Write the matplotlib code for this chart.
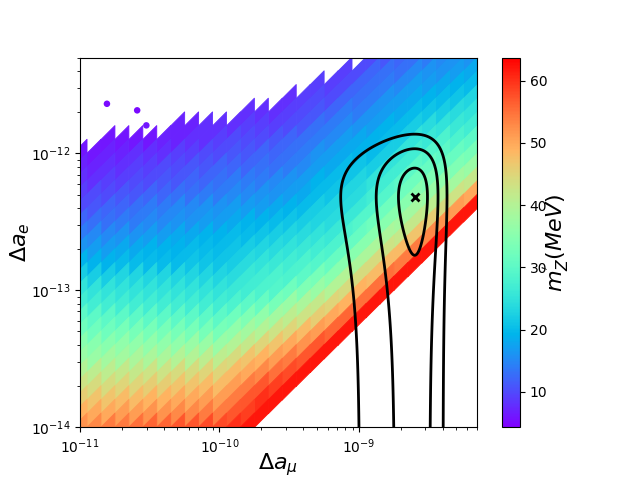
import numpy as np
import matplotlib
matplotlib.use('Agg')
import matplotlib.pyplot as plt

# scan on a grid
# columns: log10(Delta a_mu), rows: log10(Delta a_e) (top row first)
# cell value: m_Z' in MeV, 0 = no points there
log_amu = [-11.0, -10.9, -10.8, -10.7, -10.6, -10.5, -10.4, -10.3, -10.2, -10.1,
           -10.0, -9.9, -9.8, -9.7, -9.6, -9.5, -9.4, -9.3, -9.2, -9.1,
           -9.0, -8.9, -8.8, -8.7, -8.6, -8.5, -8.4, -8.3, -8.2]
log_ae = [-11.3, -11.4, -11.5, -11.6, -11.7, -11.8, -11.9, -12.0, -12.1, -12.2,
          -12.3, -12.4, -12.5, -12.6, -12.7, -12.8, -12.9, -13.0, -13.1, -13.2,
          -13.3, -13.4, -13.5, -13.6, -13.7, -13.8, -13.9, -14.0]
mass_grid = [
    [0, 0, 0, 0, 0, 0, 0, 0, 0, 0, 0, 0, 0, 0, 0, 0, 0, 0, 0, 0, 0, 10, 11, 12, 13, 14, 15, 16, 16],
    [0, 0, 0, 0, 0, 0, 0, 0, 0, 0, 0, 0, 0, 0, 0, 0, 0, 0, 0, 9, 10, 12, 13, 13, 15, 16, 16, 17, 18],
    [0, 0, 0, 0, 0, 0, 0, 0, 0, 0, 0, 0, 0, 0, 0, 0, 0, 9, 9, 10, 12, 13, 14, 15, 17, 17, 18, 19, 20],
    [0, 0, 0, 0, 0, 0, 0, 0, 0, 0, 0, 0, 0, 0, 0, 8, 9, 10, 10, 12, 13, 14, 16, 17, 18, 19, 20, 21, 23],
    [0, 0, 0, 0, 0, 0, 0, 0, 0, 0, 0, 0, 8, 8, 8, 9, 10, 11, 12, 14, 14, 16, 17, 18, 20, 21, 22, 24, 25],
    [0, 0, 0, 0, 0, 0, 0, 7, 7, 8, 8, 8, 9, 9, 9, 10, 11, 13, 14, 15, 16, 17, 19, 20, 22, 24, 25, 26, 27],
    [0, 0, 6, 6, 6, 6, 7, 7, 8, 8, 9, 10, 10, 10, 11, 12, 13, 14, 15, 17, 18, 19, 20, 22, 25, 26, 28, 28, 30],
    [6, 6, 7, 7, 8, 8, 8, 9, 9, 10, 10, 11, 11, 12, 12, 13, 14, 16, 17, 18, 19, 20, 22, 25, 27, 29, 30, 31, 33],
    [7, 7, 8, 8, 9, 9, 10, 10, 11, 11, 12, 12, 12, 13, 13, 14, 15, 17, 18, 20, 21, 22, 25, 27, 30, 31, 32, 34, 37],
    [8, 8, 9, 9, 10, 10, 11, 11, 12, 12, 13, 14, 14, 14, 15, 16, 17, 19, 20, 21, 23, 25, 27, 30, 32, 34, 36, 38, 42],
    [9, 10, 10, 11, 11, 12, 12, 13, 13, 14, 14, 15, 15, 16, 16, 17, 18, 20, 21, 23, 24, 27, 29, 32, 35, 37, 40, 43, 50],
    [10, 11, 12, 12, 13, 14, 14, 15, 15, 16, 16, 17, 17, 17, 18, 19, 20, 22, 23, 24, 26, 29, 32, 35, 38, 41, 44, 51, 62],
    [12, 13, 13, 14, 14, 15, 15, 16, 16, 17, 17, 18, 19, 19, 20, 21, 22, 23, 24, 26, 29, 32, 35, 38, 42, 46, 52, 62, 0],
    [14, 15, 15, 16, 16, 17, 17, 18, 18, 19, 19, 20, 20, 21, 22, 23, 24, 25, 26, 28, 31, 35, 39, 42, 47, 53, 62, 0, 0],
    [16, 17, 17, 18, 18, 19, 19, 19, 20, 20, 20, 21, 22, 23, 24, 25, 26, 27, 28, 31, 35, 39, 43, 48, 54, 62, 0, 0, 0],
    [19, 19, 19, 20, 20, 20, 20, 20, 21, 21, 21, 22, 24, 25, 26, 27, 28, 29, 31, 35, 39, 44, 48, 54, 62, 0, 0, 0, 0],
    [22, 22, 22, 23, 23, 23, 23, 23, 23, 23, 23, 24, 26, 27, 28, 28, 30, 33, 35, 40, 44, 48, 55, 62, 0, 0, 0, 0, 0],
    [25, 25, 25, 25, 25, 25, 25, 25, 25, 25, 25, 26, 27, 28, 29, 32, 34, 37, 40, 44, 49, 55, 62, 0, 0, 0, 0, 0, 0],
    [27, 27, 27, 27, 27, 27, 27, 27, 27, 27, 27, 28, 30, 31, 33, 37, 39, 42, 45, 49, 55, 62, 0, 0, 0, 0, 0, 0, 0],
    [30, 30, 30, 30, 30, 30, 30, 30, 30, 30, 30, 32, 34, 36, 38, 41, 43, 46, 50, 56, 62, 0, 0, 0, 0, 0, 0, 0, 0],
    [32, 32, 32, 33, 33, 33, 33, 33, 33, 33, 33, 36, 38, 40, 43, 45, 48, 51, 56, 62, 0, 0, 0, 0, 0, 0, 0, 0, 0],
    [35, 35, 35, 36, 36, 36, 36, 36, 37, 37, 37, 40, 42, 45, 47, 50, 52, 57, 62, 0, 0, 0, 0, 0, 0, 0, 0, 0, 0],
    [37, 37, 38, 38, 39, 39, 39, 40, 40, 41, 41, 44, 47, 49, 51, 54, 57, 62, 0, 0, 0, 0, 0, 0, 0, 0, 0, 0, 0],
    [40, 41, 41, 42, 42, 43, 43, 44, 44, 45, 45, 48, 50, 53, 55, 58, 62, 0, 0, 0, 0, 0, 0, 0, 0, 0, 0, 0, 0],
    [43, 44, 44, 45, 45, 46, 46, 47, 47, 48, 48, 51, 54, 57, 59, 62, 0, 0, 0, 0, 0, 0, 0, 0, 0, 0, 0, 0, 0],
    [46, 47, 47, 48, 48, 49, 49, 50, 50, 51, 51, 54, 57, 60, 62, 0, 0, 0, 0, 0, 0, 0, 0, 0, 0, 0, 0, 0, 0],
    [49, 50, 50, 51, 51, 52, 52, 53, 53, 54, 54, 57, 59, 62, 0, 0, 0, 0, 0, 0, 0, 0, 0, 0, 0, 0, 0, 0, 0],
    [52, 53, 54, 54, 55, 56, 56, 57, 57, 58, 58, 60, 62, 0, 0, 0, 0, 0, 0, 0, 0, 0, 0, 0, 0, 0, 0, 0, 0],
]

# a few isolated points above the band
out_amu = [1.56e-11, 2.57e-11, 2.99e-11]
out_ae = [2.3e-12, 2.06e-12, 1.6e-12]
out_mass = [5, 5, 6]

# measured anomalies (best fit and 1 sigma)
amu_fit, amu_err = 2.51e-9, 0.59e-9
ae_fit, ae_err = 4.8e-13, 3.0e-13
chi2_levels = [1, 4, 9]

lx, ly = np.meshgrid(log_amu, log_ae)
m = np.array(mass_grid, dtype=float)
keep = m > 0
x = 10.0 ** lx[keep]
y = 10.0 ** ly[keep]
c = m[keep]

# sheared cell shape: tiles the grid and keeps the lower band edge straight
cell = [(-0.5, -1.0), (0.5, 0.0), (0.5, 1.0), (-0.5, 0.0), (-0.5, -1.0)]

plt.figure(figsize=(6.4, 4.8), dpi=100)
sc = plt.scatter(x, y, c=c, cmap='rainbow', marker=cell, s=410, vmin=4.3,
                 vmax=63.7, edgecolors='face', linewidths=0.6)
plt.scatter(out_amu, out_ae, c=out_mass, cmap='rainbow', s=22, vmin=4.3,
            vmax=63.7, linewidths=0)

# chi^2 contours of the measurements
X, Y = np.meshgrid(np.logspace(-11, np.log10(7e-9), 600),
                   np.logspace(-14, np.log10(5e-12), 600))
chi2 = ((X - amu_fit) / amu_err) ** 2 + ((Y - ae_fit) / ae_err) ** 2
plt.contour(X, Y, chi2, levels=chi2_levels, colors='k', linewidths=2)
plt.plot(amu_fit, ae_fit, 'kx', markersize=6, markeredgewidth=2)

plt.xscale('log')
plt.yscale('log')
plt.xlim(1e-11, 7e-9)
plt.ylim(1e-14, 5e-12)
plt.xlabel(r'$\Delta a_\mu$', fontsize=16, labelpad=-3)
plt.ylabel(r'$\Delta a_e$', fontsize=16, labelpad=-1)
cb = plt.colorbar(sc)
cb.set_label(r"$m_{Z}^{'}(MeV)$", fontsize=16, labelpad=-5)

plt.savefig('out.png')
